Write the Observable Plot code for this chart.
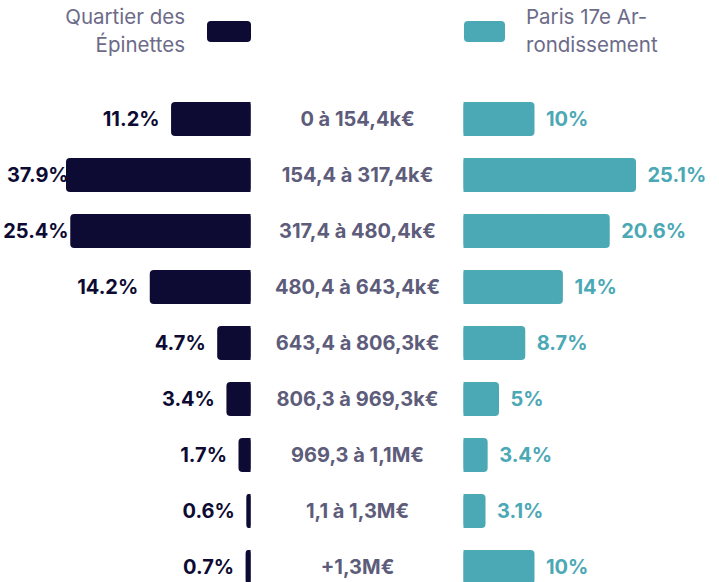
<!DOCTYPE html>
<html>
<head>
<meta charset="utf-8">
<script src="https://cdn.jsdelivr.net/npm/d3@7"></script>
<script src="https://cdn.jsdelivr.net/npm/@observablehq/plot@0.6"></script>
<style>
  html, body { margin: 0; padding: 0; background: #fff; overflow: hidden; }
  body { width: 719px; height: 582px; font-family: Inter, "Noto Sans", sans-serif; }
  #legend { position: relative; width: 719px; height: 91px; }
  .lt { position: absolute; top: 3px; font-size: 20.5px; line-height: 28px; color: #6c6b88; font-weight: 400; white-space: nowrap; }
  .sw { position: absolute; top: 21px; height: 21px; border-radius: 4px; }
  #chart svg { display: block; overflow: visible; }
</style>
</head>
<body>
<div id="legend"></div>
<div id="chart"></div>
<script>
// ---- data ----
const categories = ["0 à 154,4k€", "154,4 à 317,4k€", "317,4 à 480,4k€", "480,4 à 643,4k€", "643,4 à 806,3k€", "806,3 à 969,3k€", "969,3 à 1,1M€", "1,1 à 1,3M€", "+1,3M€"];
const quartier = [11.2, 37.9, 25.4, 14.2, 4.7, 3.4, 1.7, 0.6, 0.7];
const paris = [10, 25.1, 20.6, 14, 8.7, 5, 3.4, 3.1, 10];
const seriesNames = ["Quartier des Épinettes", "Paris 17e Ar-rondissement"];

const NAVY = "#0d0b33";
const TEAL = "#4ba8b5";
const GAP = 30;        // gap between the two halves, in % units
const LABEL_MAX = 24.0; // left labels stop moving outward past this value

const rows = categories.map((c, i) => ({cat: c, q: quartier[i], p: paris[i]}));

// legend
const legend = document.getElementById("legend");
legend.innerHTML = `
  <div class="lt" style="right:${719-185}px;text-align:right">Quartier des<br>Épinettes</div>
  <div class="sw" style="left:207px;width:44px;background:${NAVY}"></div>
  <div class="sw" style="left:464px;width:41px;background:${TEAL}"></div>
  <div class="lt" style="left:526px;text-align:left">Paris 17e Ar-<br>rondissement</div>`;

const fontBold = {fontSize: 20, fontWeight: 700};

const chart = Plot.plot({
  width: 719,
  height: 491,
  marginTop: 0, marginBottom: 0, marginLeft: 0, marginRight: 0,
  style: {fontFamily: "Inter, 'Noto Sans', sans-serif", background: "#fff", overflow: "visible"},
  x: {
    axis: null,
    type: "linear",
    domain: [-26, GAP + 24.3],
    range: [66, 636],
    clamp: true
  },
  y: {
    axis: null,
    domain: categories,
    range: [0, 504],
    paddingInner: 0.393,
    paddingOuter: 0.1965,
    align: 0.5
  },
  marks: [
    // left bars (rounded outer corners)
    Plot.rectX(rows, {x1: d => -d.q, x2: 0, y: "cat", fill: NAVY, rx: 4}),
    Plot.rectX(rows, {x1: d => -d.q / 2, x2: 0, y: "cat", fill: NAVY}),
    // right bars
    Plot.rectX(rows, {x1: GAP, x2: d => GAP + d.p, y: "cat", fill: TEAL, rx: 4}),
    Plot.rectX(rows, {x1: GAP, x2: d => GAP + d.p / 2, y: "cat", fill: TEAL}),
    // value labels
    Plot.text(rows, {x: d => -Math.min(d.q, LABEL_MAX), y: "cat", text: d => d.q + "%", textAnchor: "end", dx: -12, fill: NAVY, ...fontBold}),
    Plot.text(rows, {x: d => GAP + d.p, y: "cat", text: d => d.p + "%", textAnchor: "start", dx: 11, fill: TEAL, ...fontBold}),
    // category labels
    Plot.text(rows, {x: GAP / 2, y: "cat", text: "cat", textAnchor: "middle", fill: "#5d5c7a", ...fontBold})
  ]
});
document.getElementById("chart").appendChild(chart);
</script>
</body>
</html>
